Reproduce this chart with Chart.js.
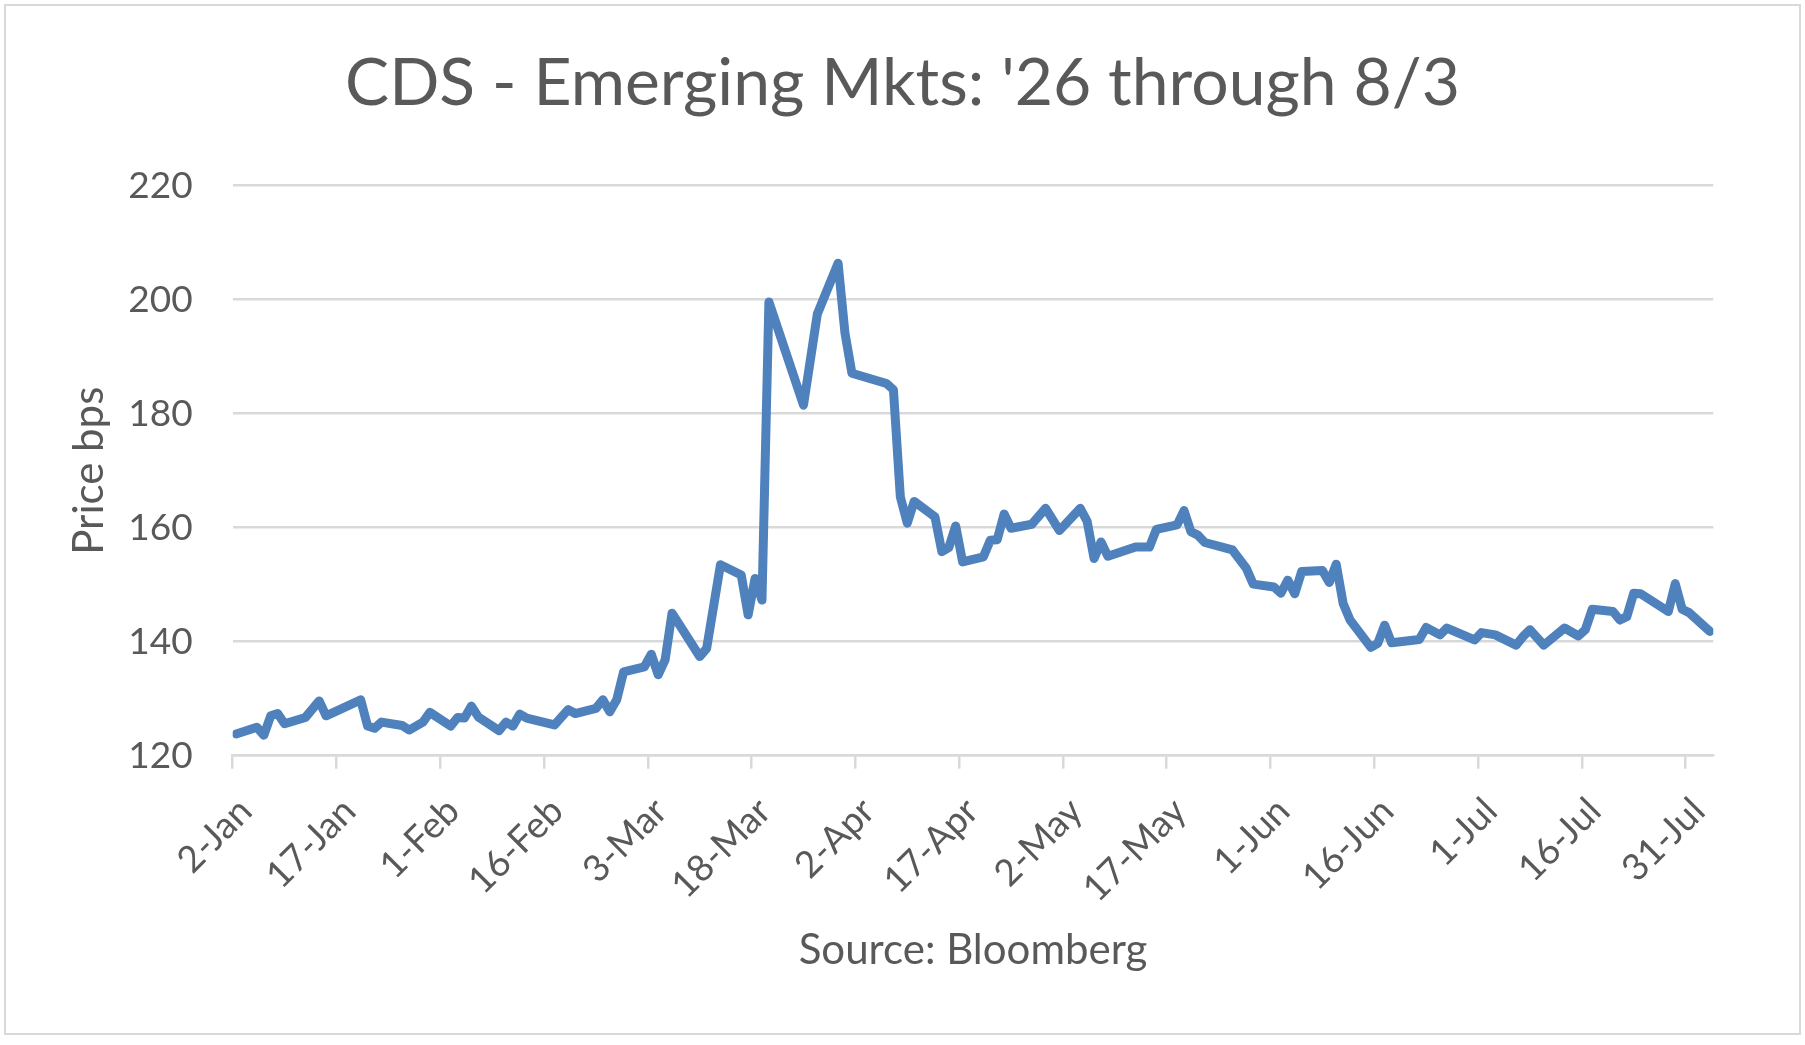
<!DOCTYPE html>
<html>
<head>
<meta charset="utf-8">
<script src="https://cdn.jsdelivr.net/npm/chart.js@4.4.1/dist/chart.umd.min.js"></script>
<style>
  body { margin: 0; background: #ffffff; }
  #wrap { position: relative; width: 1805px; height: 1045px; }
  #frame { position: absolute; left: 4px; top: 4px; width: 1797px; height: 1031px; border: 2px solid #d9d9d9; box-sizing: border-box; pointer-events: none; }
</style>
</head>
<body>
<div id="wrap">
  <canvas id="chart" width="1805" height="1045"></canvas>
  <div id="frame"></div>
</div>
<script>
// days counted from 2-Jan-2026, cds spread in bps
const days = [0, 3, 4, 5, 6, 7, 10, 12, 13, 18, 19, 20, 21, 24, 25, 27, 28,
  31, 32, 33, 34, 35, 38, 39, 40, 41, 42, 46, 48, 49, 52, 53, 54, 55, 56,
  59, 60, 61, 62, 63, 67, 68, 70, 73, 74, 75, 76, 77, 82, 84, 87, 88, 89,
  94, 95, 96, 97, 98, 101, 102, 103, 104, 105, 108, 109, 110, 111, 112,
  115, 117, 119, 122, 123, 124, 125, 126, 130, 132, 133, 136, 137, 138, 139, 140,
  144, 146, 147, 150, 151, 152, 153, 154, 157, 158, 159, 160, 161,
  164, 165, 166, 167, 171, 172, 174, 175, 179, 180, 182,
  185, 186, 187, 189, 192, 194, 195, 196, 199, 200, 201, 202, 203,
  207, 208, 209, 210, 213]
const cds = [123.8, 125.0, 123.6, 127.0, 127.4, 125.6, 126.7, 129.6, 127.0, 129.8, 125.2, 124.8, 125.9, 125.3, 124.5, 125.9, 127.6,
  125.2, 126.7, 126.6, 128.7, 126.8, 124.4, 125.9, 125.2, 127.3, 126.6, 125.4, 128.1, 127.4, 128.3, 129.8, 127.7, 129.8, 134.7,
  135.6, 137.8, 134.2, 136.8, 145.0, 137.4, 138.8, 153.5, 151.7, 144.7, 151.1, 147.3, 199.6, 181.5, 197.5, 206.4, 194.1, 187.1,
  185.3, 184.2, 165.4, 160.8, 164.6, 161.9, 155.8, 156.5, 160.3, 154.0, 154.9, 157.8, 157.9, 162.4, 159.9,
  160.6, 163.4, 159.5, 163.4, 161.1, 154.6, 157.5, 155.0, 156.6, 156.6, 159.7, 160.5, 163.0, 159.3, 158.7, 157.4,
  156.1, 152.9, 150.1, 149.6, 148.5, 150.8, 148.4, 152.3, 152.5, 150.4, 153.6, 146.7, 143.8,
  139.0, 139.7, 142.9, 139.8, 140.4, 142.5, 141.2, 142.4, 140.3, 141.6, 141.2,
  139.4, 140.9, 142.1, 139.4, 142.4, 141.0, 142.1, 145.7, 145.3, 143.8, 144.4, 148.5, 148.4,
  145.3, 150.2, 145.7, 145.1, 141.8]
const tickDays = [0, 15, 30, 45, 60, 75, 90, 105, 120, 135, 150, 165, 180, 195, 210]
const months = ['Jan', 'Feb', 'Mar', 'Apr', 'May', 'Jun', 'Jul', 'Aug', 'Sep', 'Oct', 'Nov', 'Dec']

const grey = '#595959'
const gridGrey = '#d9d9d9'

function dayLabel(d){
    const dt = new Date(2026, 0, 2 + d)
    return dt.getDate() + '-' + months[dt.getMonth()]
}

// each day is one slot on the date axis, the point sits in the middle of it
const points = days.map((d, i) => ({x: d + 0.5, y: cds[i]}))

new Chart(document.getElementById('chart'), {
    type: 'line',
    data: {
      datasets: [
        {
          data: points,
          borderColor: '#4f81bd',
          borderWidth: 9,
          borderJoinStyle: 'round',
          borderCapStyle: 'round',
          pointRadius: 0,
          tension: 0,
          fill: false
        }
      ]
    },
    options: {
      responsive: false,
      animation: false,
      devicePixelRatio: 1,
      // same padding both sides so the title stays centred on the page
      layout: { padding: { left: 91.7, right: 91.7, top: 0, bottom: 69.4 } },
      plugins: {
        legend: { display: false },
        tooltip: { enabled: false },
        title: {
          display: true,
          text: "CDS - Emerging Mkts: '26 through 8/3",
          color: grey,
          font: { family: 'Lato', size: 66, weight: 'normal' },
          padding: { top: 44.4, bottom: 62.1 }
        }
      },
      scales: {
        x: {
          type: 'linear',
          min: 0,
          max: 214,
          afterBuildTicks: (axis) => { axis.ticks = tickDays.map(v => ({value: v})) },
          afterFit: (axis) => { axis.height = 219.9 },
          ticks: {
            autoSkip: false,
            minRotation: 45,
            maxRotation: 45,
            padding: 20.6,
            labelOffset: 13,
            color: grey,
            font: { family: 'Lato', size: 37 },
            callback: (v) => dayLabel(v)
          },
          grid: { drawOnChartArea: false, drawTicks: true, tickLength: 13, color: gridGrey, lineWidth: 2.5 },
          border: { display: true, color: gridGrey, width: 2.5 },
          title: {
            display: true,
            text: 'Source: Bloomberg',
            color: grey,
            font: { family: 'Lato', size: 42 },
            padding: { top: 0, bottom: 0 }
          }
        },
        y: {
          min: 120,
          max: 220,
          afterFit: (axis) => { axis.width = 232.7 - 91.7 },
          ticks: {
            stepSize: 20,
            padding: 40,
            color: grey,
            font: { family: 'Lato', size: 37 }
          },
          grid: { drawTicks: false, color: gridGrey, lineWidth: 2.5 },
          border: { display: false },
          title: {
            display: true,
            text: 'Price bps',
            color: grey,
            font: { family: 'Lato', size: 42 },
            padding: { top: 89.7 - 91.7 - 25.2, bottom: 0 }
          }
        }
      }
    }
});
</script>
</body>
</html>
